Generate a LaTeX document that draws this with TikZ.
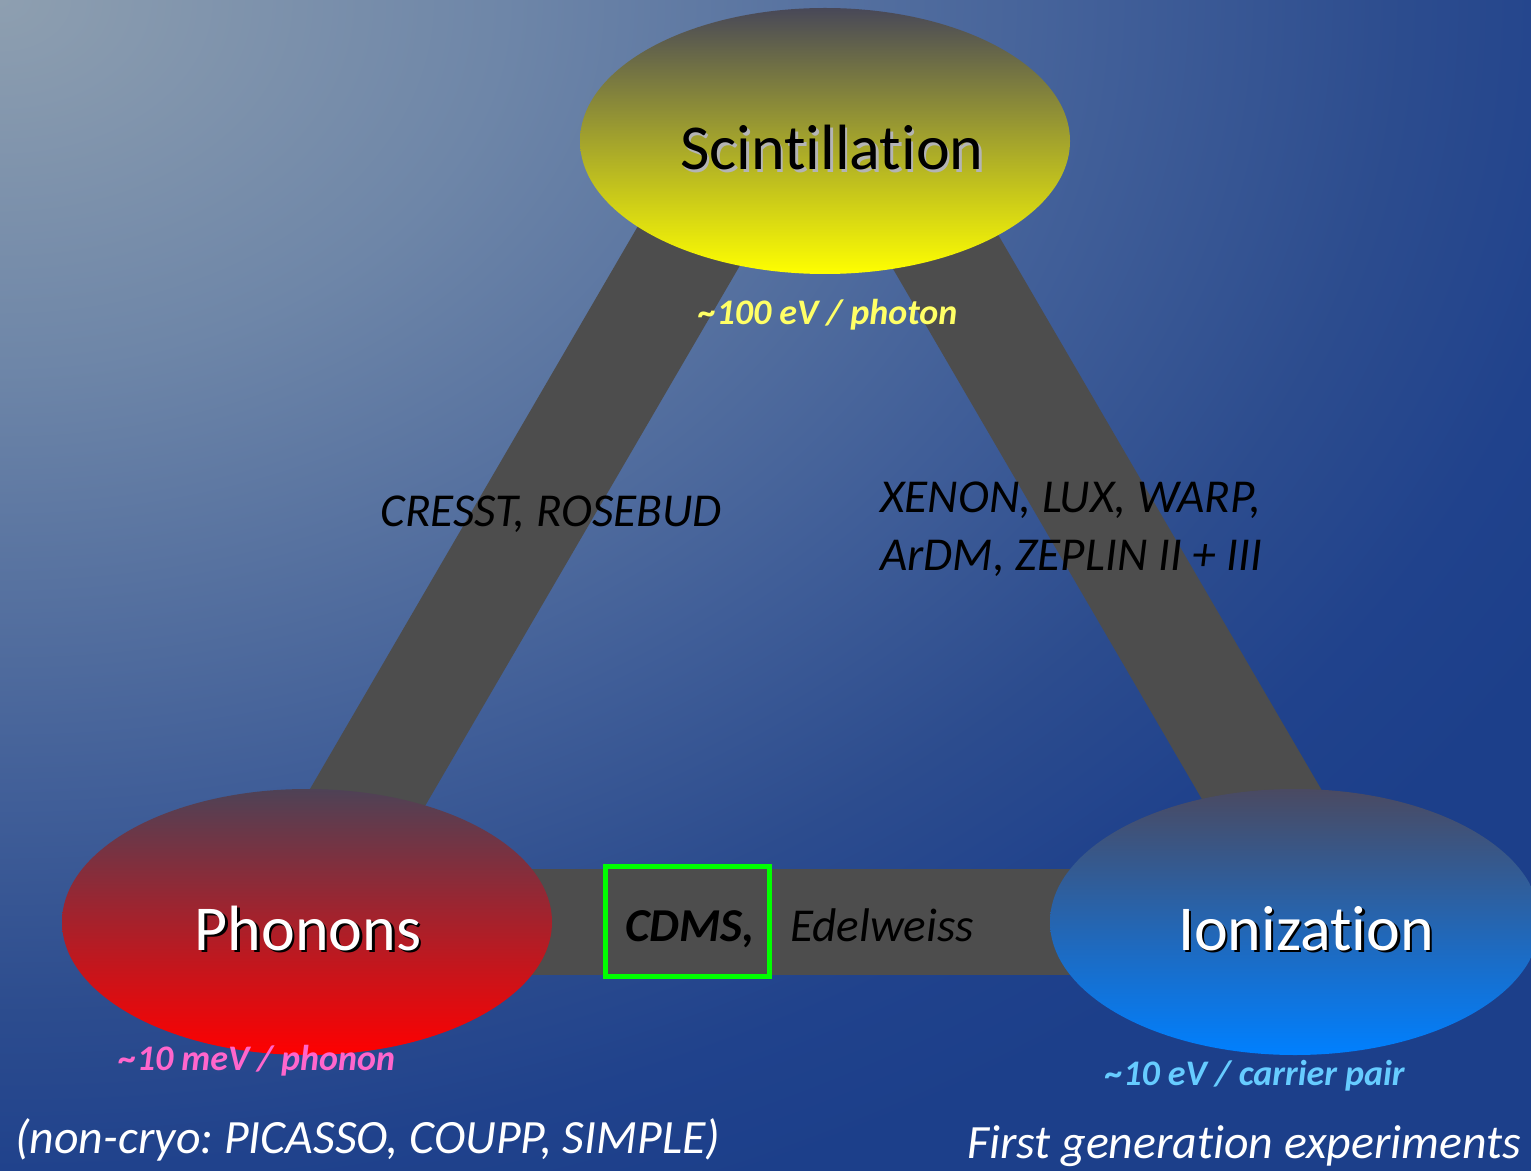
\documentclass[tikz,border=0pt]{standalone}
\usepackage{fontspec}
\setmainfont{Carlito}[Ligatures={NoCommon}]
\frenchspacing
\usetikzlibrary{shapes.geometric}
\pgfdeclarelayer{back}
\pgfsetlayers{back,main}
\definecolor{bgA}{HTML}{8E9FB0}
\definecolor{bgB}{HTML}{6E86A8}
\definecolor{bgC}{HTML}{405E98}
\definecolor{bgD}{HTML}{2C4C8E}
\definecolor{bgE}{HTML}{20428C}
\definecolor{bgF}{HTML}{1C3F8A}
\definecolor{bargray}{HTML}{4D4D4D}
\definecolor{scintTop}{HTML}{484858}
\definecolor{phonTop}{HTML}{4E4256}
\definecolor{ionTop}{HTML}{4A4A62}
\definecolor{ionBot}{HTML}{0080FF}
\definecolor{yellowtxt}{HTML}{FFFF66}
\definecolor{pinktxt}{HTML}{FF66CC}
\definecolor{bluetxt}{HTML}{66CCFF}
\definecolor{cdmsgreen}{HTML}{00FF00}
\definecolor{shadowgray}{HTML}{B4B4B4}
\pgfdeclareradialshading{bgshade}{\pgfpoint{0bp}{0bp}}{color(0bp)=(bgA); color(7bp)=(bgB); color(15.5bp)=(bgC); color(19.5bp)=(bgD); color(22.5bp)=(bgE); color(25bp)=(bgF); color(50bp)=(bgF)}
\tikzset{
  blob/.style={ellipse, minimum width=245pt, minimum height=133pt, inner sep=0pt, draw=none},
  bar/.style={draw=bargray, line width=54pt, line cap=butt},
  bigtxt/.style={font=\fontsize{32}{38}\selectfont, anchor=base, inner sep=0pt},
  armtxt/.style={font=\fontsize{23.6}{29}\selectfont\itshape, anchor=base west, inner sep=0pt, text=black},
  enertxt/.style={font=\fontsize{18}{22}\selectfont\bfseries\itshape, anchor=base, inner sep=0pt},
  foottxt/.style={font=\fontsize{23.9}{28}\selectfont\itshape, anchor=base west, inner sep=0pt, text=white},
  cdmsbox/.style={draw=cdmsgreen, line width=2.5pt, minimum width=82pt, minimum height=55pt, inner sep=0pt},
}
\begin{document}
\begin{tikzpicture}[x=0.5pt, y=-0.5pt]
\useasboundingbox (0,0) rectangle (1531,1171);
\clip (0,0) rectangle (1531,1171);
% ellipses
\node[blob, top color=scintTop, bottom color=yellow] (scint) at (825,141) {};
\node[blob, top color=phonTop, bottom color=red] (phon) at (307,922) {};
\node[blob, top color=ionTop, bottom color=ionBot] (ion) at (1295,922) {};
% bar end points
\coordinate (lbot) at (295,922);
\coordinate (ltop) at (750,141);
\coordinate (rtop) at (881,141);
\coordinate (rbot) at (1336,922);
\begin{pgfonlayer}{back}
\shade[shading=bgshade] (-1800,-1300) rectangle (1800,1300);
\draw[bar] (lbot) -- (ltop);
\draw[bar] (rtop) -- (rbot);
\draw[bar, line width=53pt] (phon.center) -- (ion.center);
\end{pgfonlayer}
% main labels with shadows
\node[bigtxt, text=shadowgray] (scintsh) at (834.5,172.5) {Scintillation};
\node[bigtxt, text=black] (scinttxt) at (832,170) {Scintillation};
\node[bigtxt, text=black] (phonsh) at (310.5,952.5) {Phonons};
\node[bigtxt, text=white] (phontxt) at (308,950) {Phonons};
\node[bigtxt, text=black] (ionsh) at (1308.5,952.5) {Ionization};
\node[bigtxt, text=white] (iontxt) at (1306,950) {Ionization};
% energy labels
\node[enertxt, text=yellowtxt] (escint) at (828,325) {\textasciitilde100 eV / photon};
\node[enertxt, text=pinktxt] (ephon) at (257,1070) {\textasciitilde10 meV / phonon};
\node[enertxt, text=bluetxt] (eion) at (1255,1085) {\textasciitilde10 eV / carrier pair};
% experiment labels
\node[armtxt] (cresst) at (380,526) {CRESST, ROSEBUD};
\node[armtxt] (xenon1) at (880,512) {XENON, LUX, WARP,};
\node[armtxt] (xenon2) at (880,570) {ArDM, ZEPLIN II + III};
\node[cdmsbox] (cdmsframe) at (687,921) {};
\node[armtxt, font=\fontsize{23.6}{29}\selectfont\bfseries\itshape] (cdms) at (625,941) {CDMS,};
\node[armtxt] (edel) at (790,941) {Edelweiss};
% footers
\node[foottxt] (noncryo) at (15,1153) {(non-cryo: PICASSO, COUPP, SIMPLE)};
\node[foottxt] (firstgen) at (967,1158) {First generation experiments};
\end{tikzpicture}
\end{document}
